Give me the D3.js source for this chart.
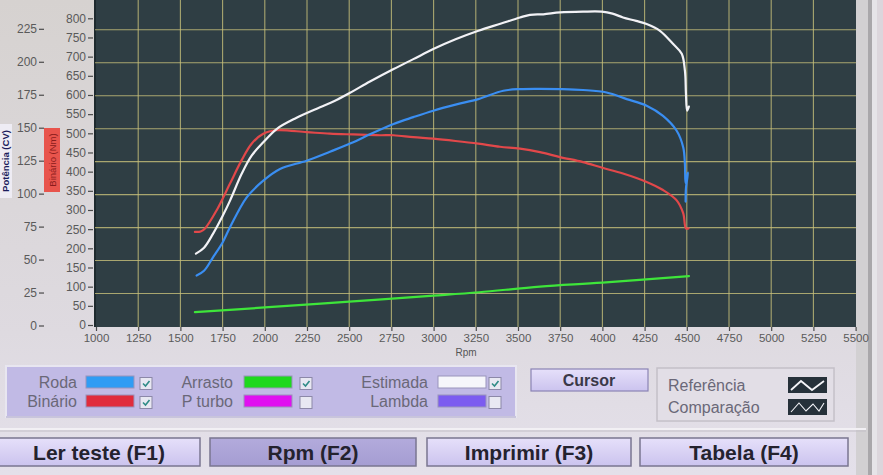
<!DOCTYPE html>
<html><head><meta charset="utf-8">
<script src="https://cdn.jsdelivr.net/npm/d3@7"></script>
<style>html,body{margin:0;padding:0;overflow:hidden;background:#dcd8dc}</style>
</head><body><svg id="c" width="883" height="475"></svg>
<script>
// ---------- data ----------
const rpmTicks = [1000,1250,1500,1750,2000,2250,2500,2750,3000,3250,3500,3750,4000,4250,4500,4750,5000,5250,5500];
const powerTicks = [0,25,50,75,100,125,150,175,200,225];
const torqueTicks = [0,50,100,150,200,250,300,350,400,450,500,550,600,650,700,750,800];

// Estimada (white, CV)
const estRpm = [1592,1640,1693,1750,1794,1863,1922,1991,2070,2188,2327,2416,2505,2623,2763,2880,2998,3130,3265,3400,3512,3571,3650,3749,3885,3996,4060,4122,4200,4262,4341,4418,4470,4489,4495,4502,4512];
const estCv  = [54.5,59,69.5,83,94.7,115,128.8,138.9,149,157.5,165.5,170.5,176.5,185,194.5,202,209.6,217,223.5,229,233.6,235.6,236,237.4,238,238,236.5,233.6,231,228.6,223.5,213.6,206,193,175.8,163,166];

// Roda (blue, CV)
const rodaRpm = [1596,1640,1693,1750,1794,1893,1991,2090,2248,2386,2524,2623,2763,2880,2998,3130,3265,3413,3512,3630,3749,3885,4025,4144,4262,4359,4440,4479,4489,4493,4507,4495,4493];
const rodaCv  = [37.9,41.5,51.7,63,74.5,97.2,109.8,118.7,125,131.8,138.9,145,152.8,158,162.9,167.5,171.7,178,179.3,179.5,179.3,178.6,176.7,171.7,166.7,159,147.7,135,122,108,116,104,94];

// Binário (red, Nm)
const binRpm = [1586,1620,1646,1715,1794,1863,1922,1991,2070,2248,2386,2524,2682,2763,2880,2998,3130,3265,3393,3512,3630,3749,3885,4000,4122,4262,4359,4440,4479,4495,4510];
const binNm  = [243,244,252,299.5,369,430,473,499,508,503,499,497,495,495,490,486,480,473,465,460,451,438,425,410,395,373,352,325,291,252,252];

// Arrasto (green, CV)
const arrRpm = [1586,2000,2500,3000,3270,3630,4000,4513];
const arrCv  = [10.1,13.7,18.1,22.6,25.2,29.5,32.5,37.5];

// legend
const legendNames   = ["Roda","Binário","Arrasto","P turbo","Estimada","Lambda"];
const legendColors  = ["#2f9cf4","#e02c3c","#1ed81e","#e010f0","#f6f6fb","#7c5cf0"];
const legendChecked = [true,true,true,false,true,false];

const buttonLabels = ["Ler teste (F1)","Rpm (F2)","Imprimir (F3)","Tabela (F4)"];
const refLabels = ["Referência","Comparação"];

// ---------- drawing ----------
const svg = d3.select("#c");
const FONT = "'Liberation Sans', Arial, sans-serif";
const defs = svg.append("defs");

const bg = defs.append("linearGradient").attr("id","bg").attr("x1",0).attr("y1",0).attr("x2",0).attr("y2",1);
bg.append("stop").attr("offset","0%").attr("stop-color","#d6d2d0");
bg.append("stop").attr("offset","70%").attr("stop-color","#dedae0");
bg.append("stop").attr("offset","100%").attr("stop-color","#e4e0ea");

const btn = defs.append("linearGradient").attr("id","btn").attr("x1",0).attr("y1",0).attr("x2",0).attr("y2",1);
btn.append("stop").attr("offset","0%").attr("stop-color","#e6e0fa");
btn.append("stop").attr("offset","100%").attr("stop-color","#cbc3ee");
const btnD = defs.append("linearGradient").attr("id","btnD").attr("x1",0).attr("y1",0).attr("x2",0).attr("y2",1);
btnD.append("stop").attr("offset","0%").attr("stop-color","#b3abdc");
btnD.append("stop").attr("offset","100%").attr("stop-color","#a59dd2");

svg.append("rect").attr("width",883).attr("height",475).attr("fill","url(#bg)");

// scales
const x = d3.scaleLinear().domain([1000,5500]).range([96,855.6]);
const yPow = d3.scaleLinear().domain([0,225]).range([325.5,28.8]);
const yTor = d3.scaleLinear().domain([0,800]).range([325,18.3]);

const plotL = 95, plotR = 856, plotT = -2, plotB = 327;

// plot background
svg.append("rect").attr("x",plotL).attr("y",plotT).attr("width",plotR-plotL).attr("height",plotB-plotT)
  .attr("fill","#2f3e44");
svg.append("line").attr("x1",plotL).attr("x2",plotL).attr("y1",plotT).attr("y2",plotB)
  .attr("stroke","#1e2a2e").attr("stroke-width",2);

// grid
const grid = svg.append("g").attr("stroke","#c8c07a").attr("stroke-opacity",0.8).attr("stroke-width",1.1);
grid.selectAll("line.v").data(rpmTicks.slice(1,-1)).join("line").attr("class","v")
  .attr("x1",d=>x(d)).attr("x2",d=>x(d)).attr("y1",plotT).attr("y2",plotB);
grid.selectAll("line.h").data(powerTicks.slice(1)).join("line").attr("class","h")
  .attr("x1",plotL).attr("x2",plotR).attr("y1",d=>yPow(d)+1).attr("y2",d=>yPow(d)+1);

// right frame
svg.append("rect").attr("x",plotR).attr("y",0).attr("width",883-plotR).attr("height",475).attr("fill","#d2d0d2");
svg.append("rect").attr("x",868).attr("y",0).attr("width",4).attr("height",475).attr("fill","#a9a7aa");
svg.append("rect").attr("x",872).attr("y",0).attr("width",5).attr("height",475).attr("fill","#e6e4e8");
svg.append("rect").attr("x",877).attr("y",0).attr("width",6).attr("height",475).attr("fill","#dcd6dc");

// clip
defs.append("clipPath").attr("id","clip").append("rect")
  .attr("x",plotL).attr("y",plotT).attr("width",plotR-plotL).attr("height",plotB-plotT);
const lines = svg.append("g").attr("clip-path","url(#clip)").attr("fill","none")
  .attr("stroke-width",2.2).attr("stroke-linejoin","round").attr("stroke-linecap","round");

const linePow = d3.line().x(d=>x(d[0])).y(d=>yPow(d[1])).curve(d3.curveCatmullRom.alpha(0.5));
const lineTor = d3.line().x(d=>x(d[0])).y(d=>yTor(d[1])).curve(d3.curveCatmullRom.alpha(0.5));

lines.append("path").attr("d",linePow(d3.zip(arrRpm,arrCv))).attr("stroke","#3ee53a");
lines.append("path").attr("d",lineTor(d3.zip(binRpm,binNm))).attr("stroke","#e2484a");
lines.append("path").attr("d",linePow(d3.zip(rodaRpm,rodaCv))).attr("stroke","#3a8ef2");
lines.append("path").attr("d",linePow(d3.zip(estRpm,estCv))).attr("stroke","#f2f2f6");

// axes
function styleAxis(g, size){
  g.select(".domain").remove();
  g.selectAll(".tick line").attr("stroke","#4a4a4a").attr("stroke-width",1.2);
  g.selectAll(".tick text").attr("fill","#5a5a5a").attr("font-family",FONT).attr("font-size",size);
}
const gx = svg.append("g").attr("transform",`translate(0,${plotB})`)
  .call(d3.axisBottom(x).tickValues(rpmTicks).tickSize(4).tickPadding(3).tickFormat(d3.format("d")));
styleAxis(gx, "11.5px");

const gp = svg.append("g").attr("transform","translate(44,0)")
  .call(d3.axisLeft(yPow).tickValues(powerTicks).tickSize(5).tickPadding(2).tickFormat(d3.format("d")));
styleAxis(gp, "12px");
const gt = svg.append("g").attr("transform","translate(93,0)")
  .call(d3.axisLeft(yTor).tickValues(torqueTicks).tickSize(5).tickPadding(2).tickFormat(d3.format("d")));
styleAxis(gt, "12px");

svg.append("text").attr("x",466).attr("y",356).attr("text-anchor","middle")
  .attr("font-family",FONT).attr("font-size","10px").attr("fill","#555").text("Rpm");

// axis titles
svg.append("rect").attr("x",0).attr("y",124).attr("width",12).attr("height",74).attr("fill","#eeecf4");
svg.append("text").attr("transform","translate(9,161) rotate(-90)").attr("text-anchor","middle")
  .attr("font-family",FONT).attr("font-size","9.5px").attr("font-weight","bold").attr("fill","#1c1c5c").text("Potência (CV)");
svg.append("rect").attr("x",44).attr("y",128).attr("width",16).attr("height",64).attr("fill","#e8544c");
svg.append("text").attr("transform","translate(55.5,160) rotate(-90)").attr("text-anchor","middle")
  .attr("font-family",FONT).attr("font-size","9.5px").attr("fill","#8a1c1c").text("Binário (Nm)");

// legend panel
svg.append("rect").attr("x",6).attr("y",366).attr("width",510).attr("height",51)
  .attr("fill","#c1bae5").attr("stroke","#e8e6f0").attr("stroke-width",2);
svg.append("line").attr("x1",6).attr("x2",516).attr("y1",417).attr("y2",417).attr("stroke","#a9a3c8");
const colText = [77,233,428], colSw = [86,244,438], colCb = [140,300,489], rowY = [382,401];
const leg = svg.append("g");
legendNames.forEach((n,i)=>{
  const c = Math.floor(i/2), r = i%2;
  leg.append("text").attr("x",colText[c]).attr("y",rowY[r]+5.5).attr("text-anchor","end")
    .attr("font-family",FONT).attr("font-size","16px").attr("fill","#6a6878").text(n);
  leg.append("rect").attr("x",colSw[c]).attr("y",rowY[r]-6).attr("width",48).attr("height",12)
    .attr("fill",legendColors[i]).attr("stroke","#9a94bc").attr("stroke-width",1);
  leg.append("rect").attr("x",colCb[c]).attr("y",rowY[r]-4.5).attr("width",12).attr("height",12)
    .attr("fill","#e8e8f2").attr("stroke","#8c88a8").attr("stroke-width",1);
  if(legendChecked[i]){
    const cx = colCb[c], cy = rowY[r]-4.5;
    leg.append("path").attr("d",`M${cx+3},${cy+6} L${cx+5.5},${cy+8.5} L${cx+9.5},${cy+3.5}`)
      .attr("fill","none").attr("stroke","#2f8c86").attr("stroke-width",1.6);
  }
});

// Cursor button
svg.append("rect").attr("x",531).attr("y",369).attr("width",117).attr("height",22)
  .attr("fill","url(#btn)").attr("stroke","#8a84b4").attr("stroke-width",1.2);
svg.append("text").attr("x",589).attr("y",386).attr("text-anchor","middle")
  .attr("font-family",FONT).attr("font-size","16px").attr("font-weight","bold").attr("fill","#3a3848").text("Cursor");

// Referência panel
svg.append("rect").attr("x",657).attr("y",368).attr("width",177).attr("height",53)
  .attr("fill","#e2dee6").attr("stroke","#c4c0c8").attr("stroke-width",1.5);
refLabels.forEach((t,i)=>{
  const yy = [385,407][i];
  svg.append("text").attr("x",668).attr("y",yy+5.5).attr("font-family",FONT).attr("font-size","16px")
    .attr("fill","#6a6878").text(t);
  svg.append("rect").attr("x",788).attr("y",yy-8).attr("width",39).attr("height",16).attr("fill","#26313a");
  const p = i===0
    ? `M791,${yy+5} L801,${yy-4} L812,${yy+5} L824,${yy-4}`
    : `M791,${yy+5} L799,${yy-4} L806,${yy+4} L813,${yy-3} L819,${yy+4} L824,${yy-4}`;
  svg.append("path").attr("d",p).attr("fill","none").attr("stroke","#f4f4f8").attr("stroke-width",i===0?1.8:1.1);
});

// separator
svg.append("line").attr("x1",0).attr("x2",plotR+10).attr("y1",429).attr("y2",429).attr("stroke","#f2f0f4").attr("stroke-width",2);
svg.append("line").attr("x1",0).attr("x2",plotR+10).attr("y1",431).attr("y2",431).attr("stroke","#c2bec6").attr("stroke-width",1);

// bottom buttons
const bx = [-2,210,427,640], bw = [202,206,204,208];
buttonLabels.forEach((t,i)=>{
  svg.append("rect").attr("x",bx[i]).attr("y",438).attr("width",bw[i]).attr("height",28)
    .attr("fill", i===1 ? "url(#btnD)" : "url(#btn)")
    .attr("stroke","#7a7690").attr("stroke-width",1.5);
  svg.append("text").attr("x",bx[i]+bw[i]/2).attr("y",460).attr("text-anchor","middle")
    .attr("font-family",FONT).attr("font-size","21px").attr("font-weight","bold").attr("fill","#24222e").text(t);
});
</script>
</body></html>
